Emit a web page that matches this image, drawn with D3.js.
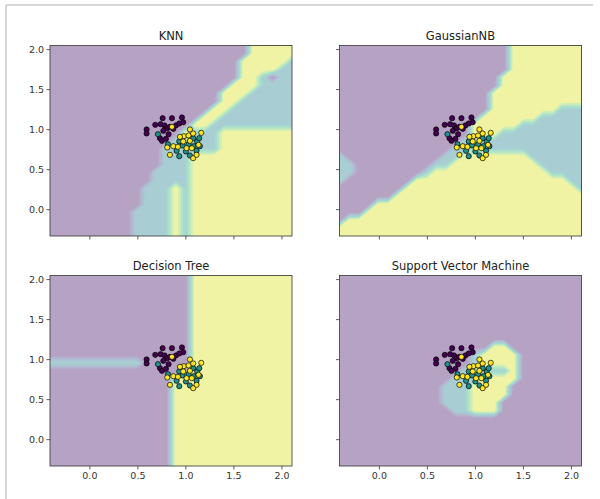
<!DOCTYPE html>
<html>
<head>
<meta charset="utf-8">
<script src="https://cdn.jsdelivr.net/npm/d3@7"></script>
<style>
  body { margin: 0; background: #fff; }
  svg { display: block; font-family: "DejaVu Sans", sans-serif; }
  .axis path, .axis line { stroke: #333; stroke-width: 0.8; }
  .axis text { fill: #333; font-size: 9.5px; font-family: "DejaVu Sans", sans-serif; }
  .title { fill: #222; font-size: 11.5px; }
</style>
</head>
<body>
<div id="chart"></div>
<script>
const titles = ["KNN", "GaussianNB", "Decision Tree", "Support Vector Machine"];
const xExtent = [-0.41, 2.11];
const yExtent = [-0.335, 2.045];
const tickValues = [0, 0.5, 1, 1.5, 2];
const levels = [0.25, 0.5, 0.75, 1, 1.25, 1.5, 1.75];

// predicted class on the mesh, top row first (0 purple, 1 teal, 2 yellow)
const knnRows = [
  "00000000000000000000022222",
  "00000000000000000000022222",
  "00000000000000000000222221",
  "00000000000000000000222211",
  "00000000000000000000221011",
  "00000000000000000002221111",
  "00000000000000000022211111",
  "00000000000000000022111111",
  "00000000000000000221111111",
  "00000000000000002211111111",
  "00000000000000022111111111",
  "00000000000000211122222222",
  "00000000000001111122222222",
  "00000000000011111122222222",
  "00000000000011122222222222",
  "00000000000011122222222222",
  "00000000000111122222222222",
  "00000000000111122222222222",
  "00000000001112122222222222",
  "00000000001112122222222222",
  "00000000001112122222222222",
  "00000000011112122222222222",
  "00000000011112122222222222",
  "00000000011112122222222222",
  "00000000011112122222222222",
];
const gnbRows = [
  "00000000000000000022222222",
  "00000000000000000022222222",
  "00000000000000000022222222",
  "00000000000000000022222222",
  "00000000000000000222222222",
  "00000000000000000222222222",
  "00000000000000002222222222",
  "00000000000000002222222222",
  "00000000000000002222222111",
  "00000000000000022222211111",
  "00000000000000222221111111",
  "00000000000000222111111111",
  "00000000000001111111111111",
  "00000000000011111111111111",
  "10000000000112222222111111",
  "11000000001122222222211111",
  "11000000012222222222221111",
  "10000000222222222222222211",
  "00000002222222222222222221",
  "00000022222222222222222222",
  "00002222222222222222222222",
  "00022222222222222222222222",
  "02222222222222222222222222",
  "22222222222222222222222222",
  "22222222222222222222222222",
];
const treeRows = [
  "00000000000000022222222222",
  "00000000000000022222222222",
  "00000000000000022222222222",
  "00000000000000022222222222",
  "00000000000000022222222222",
  "00000000000000022222222222",
  "00000000000000022222222222",
  "00000000000000022222222222",
  "00000000000000022222222222",
  "00000000000000022222222222",
  "00000000000000022222222222",
  "11111111110000022222222222",
  "00000000000000022222222222",
  "00000000000002222222222222",
  "00000000000002222222222222",
  "00000000000002222222222222",
  "00000000000002222222222222",
  "00000000000002222222222222",
  "00000000000002222222222222",
  "00000000000002222222222222",
  "00000000000002222222222222",
  "00000000000002222222222222",
  "00000000000002222222222222",
  "00000000000002222222222222",
  "00000000000002222222222222",
];
const svmRows = [
  "00000000000000000000000000",
  "00000000000000000000000000",
  "00000000000000000000000000",
  "00000000000000000000000000",
  "00000000000000000000000000",
  "00000000000000000000000000",
  "00000000000000000000000000",
  "00000000000000000000000000",
  "00000000000000000000000000",
  "00000000000000002200000000",
  "00000000000000122220000000",
  "00000000000000122220000000",
  "00000000000001111120000000",
  "00000000000011122220000000",
  "00000000000111222200000000",
  "00000000000111222200000000",
  "00000000000111222000000000",
  "00000000000011222000000000",
  "00000000000000000000000000",
  "00000000000000000000000000",
  "00000000000000000000000000",
  "00000000000000000000000000",
  "00000000000000000000000000",
  "00000000000000000000000000",
  "00000000000000000000000000",
];
const gridRows = [knnRows, gnbRows, treeRows, svmRows];

const purplePoints = [
  [0.763, 1.137], [0.860, 1.137], [0.964, 1.146], [0.977, 1.087], [0.686, 1.054],
  [0.742, 1.062], [0.783, 1.046], [0.811, 1.012], [0.839, 1.029], [0.874, 1.004],
  [0.901, 1.046], [0.936, 1.071], [0.596, 0.996], [0.596, 0.946], [0.770, 0.979],
  [0.735, 0.887], [0.756, 0.854], [0.797, 0.879], [0.825, 0.937],
];
const tealPoints = [
  [0.714, 0.937], [0.936, 0.846], [0.971, 0.796], [0.936, 0.662], [1.047, 0.671],
  [1.116, 0.729], [1.081, 0.887], [1.033, 0.812], [1.123, 0.846], [1.144, 0.887],
  [0.818, 0.812], [0.908, 0.729], [1.005, 0.721], [1.088, 0.787], [1.151, 0.787],
];
const yellowPoints = [
  [0.860, 1.029], [0.984, 0.912], [1.033, 0.921], [1.047, 0.996], [1.081, 0.946],
  [1.165, 0.954], [0.943, 0.904], [0.839, 0.679], [0.811, 0.771], [0.874, 0.787],
  [0.922, 0.779], [1.012, 0.762], [1.067, 0.762], [1.081, 0.637], [1.116, 0.679],
  [1.047, 0.854], [0.977, 0.846], [1.137, 0.804],
];
const pointSets = [purplePoints, tealPoints, yellowPoints];

const width = 600, height = 499;
const colX = [50, 339.5], rowY = [45.5, 275.5];
const panelW = 242, panelH = 190.5;

// band colours: viridis at level midpoints, alpha .4 over white
const bandColors = d3.range(levels.length + 1)
  .map((k) => d3.interpolateRgb("#fff", d3.interpolateViridis((k + 0.5) / (levels.length + 1)))(0.4));
const classColors = [0, 0.5, 1].map((t) => d3.interpolateViridis(t));

const svg = d3.select("#chart").append("svg")
  .attr("width", width).attr("height", height)
  .attr("viewBox", [0, 0, width, height]);

// notebook frame
svg.append("line").attr("x1", 6).attr("x2", 593).attr("y1", 5).attr("y2", 5)
  .attr("stroke", "#c8c8c8").attr("stroke-width", 1.5);
svg.append("line").attr("x1", 6).attr("x2", 6).attr("y1", 5).attr("y2", height)
  .attr("stroke", "#c8c8c8").attr("stroke-width", 1.5);

titles.forEach((title, p) => {
  const col = p % 2, row = Math.floor(p / 2);
  const x = d3.scaleLinear().domain(xExtent).range([colX[col], colX[col] + panelW]);
  const y = d3.scaleLinear().domain(yExtent).range([rowY[row] + panelH, rowY[row]]);

  const rows = gridRows[p];
  const ny = rows.length, nx = rows[0].length;
  const values = rows.flatMap((r) => r.padEnd(nx, r.slice(-1)).slice(0, nx).split("").map(Number));
  const xStep = (xExtent[1] - xExtent[0]) / (nx - 1);
  const yStep = (yExtent[1] - yExtent[0]) / (ny - 1);

  const g = svg.append("g");
  const clipId = `clip-${p}`;
  g.append("clipPath").attr("id", clipId).append("rect")
    .attr("x", x.range()[0]).attr("y", y.range()[1])
    .attr("width", panelW).attr("height", panelH);

  const gridToScreen = d3.geoTransform({
    point(gx, gy) {
      this.stream.point(
        x(xExtent[0] + (gx - 0.5) * xStep),
        y(yExtent[1] - (gy - 0.5) * yStep)
      );
    },
  });
  const path = d3.geoPath(gridToScreen);
  // values sitting exactly on a level go to the band below it, like contourf
  const contours = d3.contours().size([nx, ny])
    .thresholds(levels.map((l) => l + 1e-6))(values);

  const gFill = g.append("g").attr("clip-path", `url(#${clipId})`);
  gFill.append("rect")
    .attr("x", x.range()[0]).attr("y", y.range()[1])
    .attr("width", panelW).attr("height", panelH)
    .attr("fill", bandColors[0]);
  gFill.selectAll("path").data(contours).join("path")
    .attr("d", path)
    .attr("fill", (d, i) => bandColors[i + 1]);

  const gPts = g.append("g").attr("clip-path", `url(#${clipId})`);
  pointSets.forEach((pts, c) => {
    gPts.selectAll(null).data(pts).join("circle")
      .attr("cx", (d) => x(d[0])).attr("cy", (d) => y(d[1]))
      .attr("r", 2.6)
      .attr("fill", classColors[c])
      .attr("stroke", "#000").attr("stroke-width", 0.7);
  });

  g.append("rect")
    .attr("x", x.range()[0]).attr("y", y.range()[1])
    .attr("width", panelW).attr("height", panelH)
    .attr("fill", "none").attr("stroke", "#333").attr("stroke-width", 0.8);

  g.append("g").attr("class", "axis")
    .attr("transform", `translate(${x.range()[0]},0)`)
    .call(d3.axisLeft(y).tickValues(tickValues).tickSize(3.5).tickPadding(2.5)
      .tickFormat(col === 0 ? d3.format(".1f") : () => ""))
    .call((a) => a.select(".domain").remove());

  g.append("g").attr("class", "axis")
    .attr("transform", `translate(0,${y.range()[0]})`)
    .call(d3.axisBottom(x).tickValues(tickValues).tickSize(3.5).tickPadding(3)
      .tickFormat(row === 1 ? d3.format(".1f") : () => ""))
    .call((a) => a.select(".domain").remove());

  g.append("text").attr("class", "title")
    .attr("x", x.range()[0] + panelW / 2).attr("y", y.range()[1] - 6)
    .attr("text-anchor", "middle")
    .text(title);
});
</script>
</body>
</html>
